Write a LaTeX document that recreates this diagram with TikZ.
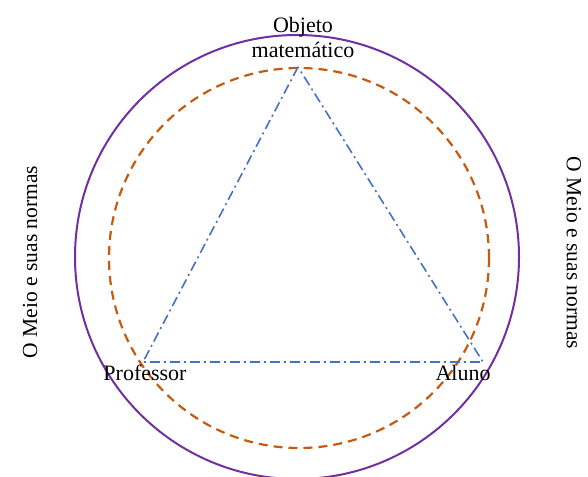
\documentclass[tikz,border=0pt]{standalone}
\usepackage{fontspec}
\setmainfont{Liberation Serif}
\usepackage{tikz}
\usetikzlibrary{positioning}
\definecolor{ringpurple}{RGB}{112, 48, 160}
\definecolor{ringorange}{RGB}{197, 90, 17}
\definecolor{edgeblue}{RGB}{68, 114, 196}

\tikzset{
  outerring/.style={ringpurple, line width=2pt},
  innerring/.style={ringorange, line width=2.2pt, dash pattern=on 9pt off 6pt},
  triedge/.style={edgeblue, line width=1.6pt, dash pattern=on 10pt off 4pt on 2pt off 4pt},
  vlabel/.style={font=\fontsize{22}{25}\selectfont, inner sep=0pt, align=center},
  sidelabel/.style={font=\fontsize{21.5}{25}\selectfont, inner sep=0pt}
}

\begin{document}
\begin{tikzpicture}[x=1pt, y=-1pt]
  \useasboundingbox (0,0) rectangle (588,476);
  % Circles
  \draw[outerring] (297,257) circle (222);
  \draw[innerring] (299,258) circle (190);
  % Triangle corners
  \coordinate (top) at (298,67);
  \coordinate (prof) at (143,362);
  \coordinate (aluno) at (483,362);
  \draw[triedge] (top) -- (prof) -- (aluno) -- cycle;
  % Labels
  \node[vlabel] (objeto) at (303,37) {Objeto\\matemático};
  \node[vlabel] (proflabel) at (145,373) {Professor};
  \node[vlabel] (alunolabel) at (463,373) {Aluno};
  \node[sidelabel, rotate=90] (meioleft) at (30,262) {O Meio e suas normas};
  \node[sidelabel, rotate=-90] (meioright) at (574,253) {O Meio e suas normas};
\end{tikzpicture}
\end{document}
